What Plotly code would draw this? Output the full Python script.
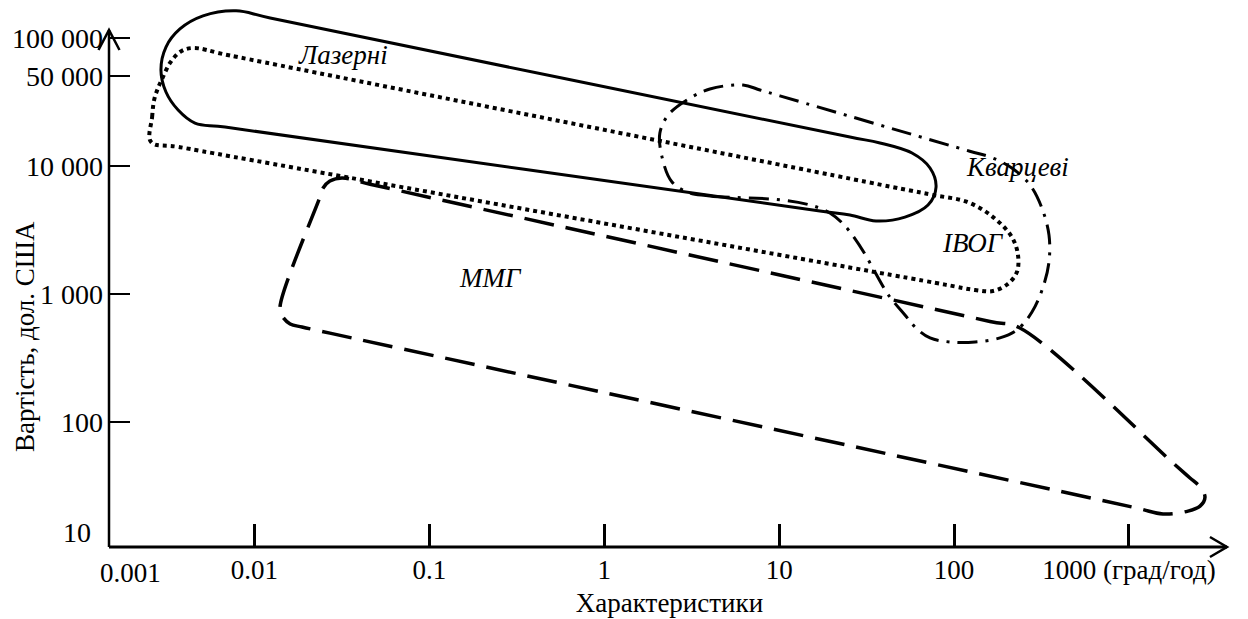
import plotly.graph_objects as go

# ---- axis ticks ----
x_tick_values = [0.01, 0.1, 1, 10, 100, 1000]
x_tick_labels = ["0.01", "0.1", "1", "10", "100", "1000 (град/год)"]
y_tick_values = [100, 1000, 10000, 50000, 100000]
y_tick_labels = ["100", "1 000", "10 000", "50 000", "100 000"]

# ---- region outlines (x: drift, deg/h ; y: cost, USD) ----
laser_x = [0.00785, 0.0123, 25.4, 37.7, 57.5, 72.9, 78.9, 71.0, 52.4, 35.8, 25.4, 17.1,
           0.00679, 0.00457, 0.00366, 0.00312, 0.00292, 0.00312, 0.00375, 0.00508, 0.00785]
laser_y = [162000, 142500, 16800, 15100, 12600, 9630, 6840, 4950, 3990, 3720, 4140, 4450,
           20100, 21600, 27300, 37700, 56000, 84600, 117000, 148000, 162000]

ivog_x = [0.00256, 0.00260, 0.00267, 0.00281, 0.00300, 0.00329, 0.00375, 0.00440, 0.00725,
          49.1, 75.8, 119, 167, 214, 232, 229, 203, 167, 132, 88.8, 0.00375, 0.00256]
ivog_y = [15400, 24100, 32700, 40500, 49400, 63500, 77300, 83100, 72600,
          6660, 5930, 5230, 3990, 2790, 2020, 1490, 1200, 1057, 1076, 1186, 14000, 15400]

quartz_x = [19.5, 4.02, 3.09, 2.44, 2.14, 2.08, 2.32, 2.97, 4.02, 6.21, 7.77, 10.1,
            123, 161, 214, 272, 318, 349, 349, 323, 279, 229, 183, 132, 94.8, 72.9,
            60.6, 52.4, 43.0, 19.5]
quartz_y = [4290, 5830, 6150, 7490, 11730, 18060, 24950, 32700, 39800, 42800, 39100, 35200,
            13020, 11730, 9630, 7100, 4690, 2890, 1780, 1136, 725, 525, 455, 423, 423, 455,
            544, 687, 949, 4290]

mmg_x = [238, 1834, 2234, 2549, 2721, 2549, 2176, 1565, 1083, 0.0270, 0.0187, 0.0160,
         0.0144, 0.0140, 0.0237, 0.0247, 0.0270, 0.0317, 0.0458, 160.5, 238]
mmg_y = [544, 46.6, 36.8, 31.3, 26.1, 22.2, 20.3, 19.3, 21.6, 496, 554, 585,
         675, 793, 5720, 6720, 7620, 8050, 7200, 612, 544]

region_names = ["Лазерні", "ІВОГ", "Кварцеві", "ММГ"]

FONT = "Liberation Serif"
FS = 27

fig = go.Figure()
outlines = [
    (region_names[0], laser_x, laser_y, "solid", 3),
    (region_names[1], ivog_x, ivog_y, "4px,4px", 4),
    (region_names[2], quartz_x, quartz_y, "20px,8px,3px,8px", 3),
    (region_names[3], mmg_x, mmg_y, "30px,12px", 3.5),
]
for name, xs, ys, dash, w in outlines:
    fig.add_trace(go.Scatter(
        x=xs, y=ys, mode="lines", name=name, showlegend=False, hoverinfo="skip",
        line=dict(color="black", width=w, dash=dash, shape="spline", smoothing=1.0),
    ))

# region labels (paper positions)
label_pos = {
    "Лазерні": (0.2087, 0.9061),
    "Кварцеві": (0.8100, 0.6998),
    "ІВОГ": (0.7707, 0.5599),
    "ММГ": (0.3399, 0.4954),
}
annotations = []
for name in region_names:
    px, py = label_pos[name]
    annotations.append(dict(
        text="<i>" + name + "</i>", x=px, y=py, xref="paper", yref="paper",
        showarrow=False, font=dict(family=FONT, size=FS, color="black"),
        xanchor="center", yanchor="middle"))

annotations += [
    dict(text="0.001", x=0.0196, y=-0.048, xref="paper", yref="paper", showarrow=False,
         font=dict(family=FONT, size=FS, color="black"), xanchor="center", yanchor="middle"),
    dict(text="10", x=-0.0143, y=0.026, xref="paper", yref="paper", showarrow=False,
         font=dict(family=FONT, size=28, color="black"), xanchor="right", yanchor="middle"),
    dict(text="Вартість, дол. США", x=-0.0749, y=0.3867, xref="paper", yref="paper",
         showarrow=False, textangle=-90, font=dict(family=FONT, size=FS, color="black"),
         xanchor="center", yanchor="middle"),
]

Y_TOP = 0.9521
X_END = 0.9973
shapes = [
    dict(type="line", xref="paper", yref="paper", x0=0, x1=0, y0=0, y1=Y_TOP,
         line=dict(color="black", width=2.5)),
    dict(type="line", xref="paper", yref="paper", x0=0, x1=X_END, y0=0, y1=0,
         line=dict(color="black", width=3)),
    dict(type="path", xref="paper", yref="paper", xsizemode="pixel", ysizemode="pixel",
         xanchor=X_END, yanchor=0, path="M-17,10 L0,0 L-17,-10",
         line=dict(color="black", width=2.5)),
    dict(type="path", xref="paper", yref="paper", xsizemode="pixel", ysizemode="pixel",
         xanchor=0, yanchor=Y_TOP, path="M-10.5,-20 L0,0 L10.5,-20",
         line=dict(color="black", width=2.5)),
]

fig.update_layout(
    template="none",
    width=1248, height=619,
    margin=dict(l=109, r=18, t=4, b=72, pad=0),
    paper_bgcolor="white", plot_bgcolor="white",
    font=dict(family=FONT, color="black"),
    showlegend=False,
    annotations=annotations,
    shapes=shapes,
    xaxis=dict(
        type="log", range=[-2.8316, 3.5778], automargin=False,
        tickvals=x_tick_values, ticktext=x_tick_labels,
        ticks="inside", ticklen=23, tickwidth=3, tickcolor="black",
        showgrid=False, zeroline=False, showline=False,
        tickfont=dict(family=FONT, size=FS, color="black"), ticklabelstandoff=4,
        title=dict(text="Характеристики", font=dict(family=FONT, size=FS, color="black"), standoff=9),
    ),
    yaxis=dict(
        type="log", range=[1.0273, 5.2629], automargin=False,
        tickvals=y_tick_values, ticktext=y_tick_labels,
        ticks="inside", ticklen=21, tickwidth=2, tickcolor="black",
        showgrid=False, zeroline=False, showline=False,
        tickfont=dict(family=FONT, size=28, color="black"), ticklabelstandoff=5,
    ),
)

fig.write_html("out.html", config={"displayModeBar": False},
               post_script="document.body.style.margin='0';")
